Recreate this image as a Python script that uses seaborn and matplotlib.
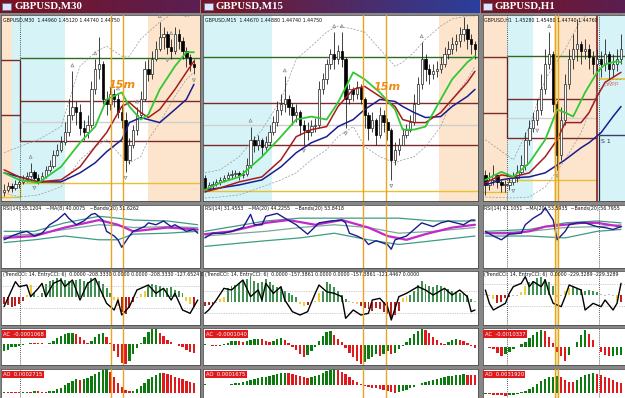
import numpy as np
import pandas as pd
import matplotlib
matplotlib.use("Agg")
import matplotlib.pyplot as plt
from matplotlib.colors import LinearSegmentedColormap
import seaborn as sns

sns.set_theme(style="white")
plt.rcParams['font.family'] = ['DejaVu Sans']

# ---------------- GBPUSD M30 (prix en pips au-dessus du bas du panneau) ----------------
m30_open0 = 8
m30_close = [10, 14, 12, 16, 18, 20, 24, 28, 22, 20, 24, 30, 34, 45, 50, 58, 68, 85, 92, 88,
             72, 68, 75, 110, 130, 135, 100, 95, 105, 100, 88, 80, 40, 55, 70, 85, 100, 130, 125, 140,
             150, 162, 165, 152, 148, 165, 158, 148, 142, 135, 132]
m30_high = [16, 18, 17, 20, 22, 25, 28, 37, 30, 26, 28, 34, 40, 50, 56, 64, 78, 100, 128, 98,
            95, 80, 85, 118, 140, 162, 138, 108, 112, 110, 105, 95, 88, 62, 75, 92, 108, 138, 140, 148,
            158, 177, 172, 168, 160, 172, 170, 162, 152, 145, 140]
m30_low = [4, 8, 8, 10, 12, 16, 18, 22, 18, 16, 18, 22, 28, 32, 44, 48, 55, 64, 80, 75,
           65, 60, 62, 72, 105, 120, 95, 85, 90, 92, 82, 72, 28, 36, 52, 65, 82, 98, 118, 120,
           138, 148, 150, 145, 140, 145, 150, 140, 132, 128, 125]
m30_ma_x = [0, 4, 9, 15, 20, 24, 27, 31, 33, 36, 38, 41, 45, 48, 50]
m30_ma_fast = [27, 20, 17, 33, 57, 73, 100, 107, 93, 80, 85, 110, 133, 147, 147]
m30_ma_mid = [30, 23, 18, 20, 33, 53, 67, 93, 97, 87, 82, 90, 110, 127, 138]
m30_ma_slow = [27, 23, 18, 18, 27, 37, 48, 60, 77, 82, 80, 77, 90, 100, 115]
m30_bb_up = [47, 53, 60, 73, 133, 147, 153, 143, 143, 160, 167, 177, 187, 182, 185]
m30_bb_lo = [7, 3, 5, 13, 40, 53, 60, 43, 37, 43, 60, 77, 103, 120, 127]
m30_frac_up = [7, 18, 24, 30, 35, 41, 44]
m30_frac_dn = [8, 32, 43, 50]
m30_lv_left = [139, 85, 3]
m30_lv_right = [141, 98, 78, 59, 17]
m30_rsi_x = [0, 2, 4, 6, 8, 10, 12, 14, 16, 17, 19, 21, 23, 24, 26, 27, 29, 30, 31, 33,
             34, 37, 38, 40, 42, 44, 45, 48, 50, 51]
m30_rsi = [50, 54, 57, 59, 54, 57, 66, 71, 78, 73, 66, 70, 77, 78, 71, 59, 54, 50, 42, 54,
           59, 64, 68, 66, 70, 64, 66, 59, 61, 57]
m30_rsi_ma_x = [0, 8, 16, 25, 30, 34, 43, 51]
m30_rsi_ma = [52, 54, 63, 71, 66, 59, 63, 61]
m30_rsi_bup = [59, 59, 68, 75, 73, 71, 70, 66]
m30_rsi_bmid = [54, 56, 61, 66, 65, 63, 64, 63]
m30_rsi_blo = [47, 50, 54, 50, 50, 56, 57, 59]
m30_cci = [-60, -70, -90, -80, -60, -30, 20, 110, 40, 10, 40, 120, 150, 160, 170, 170, 160, 150, 140, 160,
           165, 150, 140, 170, 160, 150, 120, 80, 40, -20, -80, -130, -150, -100, -40, -10, 30, 60, 100, 120,
           110, 100, 80, 80, 90, 70, 60, 40, -30, -60, -90]
m30_entry_x = [0, 2, 3, 4, 6, 7, 9, 10, 11, 13, 15, 16, 18, 20, 22, 24, 25, 27, 29, 30,
               31, 33, 35, 37, 38, 40, 42, 44, 45, 47, 49, 51]
m30_entry = [-84, 66, 141, 96, 111, 6, 81, 126, 6, 126, 156, 96, 156, -24, 126, 171, 96, -54, -114, -24,
             -159, -84, 66, 96, 111, 36, 81, -24, 36, -114, -144, -24]
m30_ac = [-20, -18, -10, -8, -5, -2, 2, 5, 4, 3, 3, 2, 4, 10, 18, 25, 30, 34, 36, 30,
          22, 14, 4, 10, 22, 32, 36, 22, 5, -22, -40, -58, -62, -52, -30, -12, 4, 22, 38, 46,
          48, 36, 24, 14, 6, 2, -4, -10, -18, -24, -28]
m30_ao = [2, 2, 1, 1, 1, 2, 3, 3, 4, 4, 3, 3, 4, 5, 10, 15, 22, 28, 34, 40,
          38, 42, 44, 50, 56, 62, 68, 70, 62, 48, 30, 18, 8, 4, 6, 12, 20, 30, 40, 48,
          54, 58, 58, 56, 52, 48, 44, 40, 36, 32, 28]

# ---------------- GBPUSD M15 ----------------
m15_open0 = 22
m15_close = [12, 15, 16, 18, 20, 22, 25, 26, 27, 25, 26, 35, 60, 55, 60, 53, 58, 68, 78, 90,
             95, 100, 92, 85, 88, 75, 70, 68, 74, 75, 110, 120, 135, 145, 140, 148, 140, 100, 110, 105,
             112, 100, 85, 72, 80, 65, 85, 78, 70, 40, 50, 55, 65, 70, 78, 95, 115, 140, 130, 125,
             128, 130, 135, 145, 150, 155, 158, 165, 170, 160, 155, 150]
m15_high = [25, 18, 19, 21, 23, 25, 28, 30, 30, 29, 30, 42, 73, 64, 65, 62, 64, 75, 84, 98,
            105, 123, 104, 96, 95, 90, 80, 78, 80, 82, 118, 126, 140, 150, 167, 154, 167, 142, 115, 112,
            118, 115, 102, 88, 88, 82, 92, 90, 82, 72, 58, 62, 72, 76, 85, 105, 122, 157, 145, 135,
            135, 138, 142, 152, 158, 162, 165, 172, 182, 175, 165, 158]
m15_low = [8, 10, 12, 14, 15, 18, 20, 22, 23, 20, 22, 24, 32, 48, 50, 45, 50, 55, 65, 74,
           85, 88, 85, 75, 78, 65, 55, 60, 64, 68, 72, 105, 115, 130, 130, 135, 132, 72, 95, 98,
           100, 95, 72, 60, 68, 55, 62, 68, 60, 20, 35, 45, 55, 62, 68, 75, 95, 110, 118, 115,
           120, 122, 126, 132, 140, 145, 148, 152, 158, 150, 145, 140]
m15_ma_x = [0, 4, 9, 15, 20, 24, 28, 32, 35, 39, 42, 46, 50, 52, 55, 58, 62, 65, 69, 71]
m15_ma_fast = [10, 17, 23, 43, 63, 80, 83, 80, 97, 127, 120, 107, 90, 70, 70, 73, 100, 120, 137, 143]
m15_ma_mid = [8, 12, 18, 23, 40, 63, 70, 73, 93, 110, 113, 103, 93, 80, 77, 77, 87, 100, 117, 128]
m15_ma_slow = [10, 12, 15, 20, 33, 47, 57, 63, 73, 80, 90, 100, 98, 93, 87, 82, 83, 93, 103, 110]
m15_bb_up = [27, 30, 43, 70, 100, 140, 153, 167, 173, 170, 167, 150, 133, 137, 147, 160, 173, 180, 183, 183]
m15_bb_lo = [2, 3, 5, 13, 20, 27, 40, 50, 63, 73, 53, 43, 37, 40, 43, 53, 73, 100, 120, 133]
m15_frac_up = [12, 21, 34, 36, 57, 68]
m15_frac_dn = [26, 37, 49]
m15_levels = [142, 96, 75, 55, 9]
m15_rsi_x = [0, 2, 5, 7, 10, 12, 13, 15, 16, 19, 21, 24, 27, 29, 30, 33, 36, 37, 38, 40,
             42, 43, 45, 48, 49, 50, 53, 55, 57, 60, 62, 64, 66, 68, 70, 71]
m15_rsi = [52, 57, 57, 59, 63, 77, 66, 66, 75, 78, 73, 66, 56, 64, 68, 70, 71, 68, 57, 54,
           50, 45, 49, 45, 40, 50, 54, 61, 68, 64, 68, 70, 68, 66, 71, 71]
m15_rsi_ma_x = [0, 7, 16, 22, 29, 36, 43, 48, 53, 58, 65, 71]
m15_rsi_ma = [56, 59, 68, 71, 66, 71, 63, 54, 50, 56, 63, 66]
m15_rsi_b_x = [0, 16, 25, 34, 43, 51, 60, 71]
m15_rsi_bup = [59, 70, 73, 73, 73, 73, 70, 70]
m15_rsi_bmid = [54, 59, 63, 66, 63, 57, 59, 63]
m15_rsi_blo = [43, 49, 52, 57, 50, 45, 49, 54]
m15_cci = [-40, -30, -20, -10, 20, 40, 120, 140, 150, 170, 190, 200, 225, 190, 170, 180, 200, 180, 150, 130,
           120, 100, 80, 60, 40, -20, -40, -30, -10, 10, 80, 100, 180, 160, 130, 100, 60, 20, 10, -10,
           -20, -40, -60, -70, -80, -60, -70, -90, -110, -150, -120, -80, 30, 50, 60, 100, 150, 190, 160, 140,
           130, 150, 140, 120, 110, 100, 90, 80, 70, 60, 20, 10]
m15_entry_x = [0, 1, 3, 5, 7, 10, 12, 14, 15, 16, 18, 20, 21, 23, 25, 27, 29, 30, 32, 34,
               36, 37, 39, 41, 43, 44, 46, 48, 49, 51, 53, 56, 58, 60, 63, 65, 67, 69, 70, 71]
m15_entry = [-105, -75, 15, 120, 105, 195, 45, 105, 15, 165, 75, 135, 15, -90, -120, -90, 75, 150, 90, 75,
             45, -150, -75, -120, -105, 15, 30, -45, -165, 45, 75, 135, 105, 60, 120, 60, 105, 45, -90, -75]
m15_ac = [3, 0, -3, -5, -4, 2, 6, 10, 12, 10, 9, 12, 14, 16, 18, 16, 12, 8, 12, 16,
          20, 14, 6, -8, -18, -28, -38, -32, -20, -6, 12, 28, 38, 42, 30, 18, 8, -10, -25, -40,
          -50, -62, -55, -45, -40, -30, -35, -28, -20, -30, -25, -15, -5, 8, 20, 32, 42, 50, 45, 35,
          25, 15, 6, 2, 8, 14, 18, 14, 10, 6, -4, -12]
m15_ao = [2, 1, 0, -1, -1, 0, 1, 3, 5, 7, 9, 11, 14, 17, 20, 23, 25, 28, 31, 34,
          36, 37, 36, 34, 31, 27, 24, 22, 23, 26, 30, 36, 42, 46, 48, 46, 40, 32, 24, 16,
          8, 2, -3, -6, -8, -10, -12, -14, -18, -22, -24, -22, -18, -14, -10, -5, 0, 5, 8, 12,
          15, 18, 21, 24, 26, 28, 30, 31, 32, 31, 30, 29]

# ---------------- GBPUSD H1 ----------------
h1_open0 = 25
h1_close = [15, 20, 25, 18, 15, 15, 18, 22, 28, 35, 60, 72, 80, 90, 110, 135, 145, 95, 45, 80,
            115, 140, 150, 155, 148, 150, 142, 135, 140, 135, 145, 130, 135, 140, 150]
h1_high = [30, 28, 35, 25, 20, 20, 22, 28, 35, 45, 68, 80, 88, 100, 125, 150, 167, 148, 98, 92,
           125, 150, 165, 180, 158, 160, 155, 148, 150, 148, 160, 148, 145, 150, 165]
h1_low = [5, 10, 15, 12, 8, 8, 10, 15, 18, 26, 30, 55, 68, 75, 85, 105, 130, 88, 30, 40,
          75, 110, 130, 138, 135, 140, 130, 125, 125, 122, 128, 120, 122, 128, 135]
h1_fast_x = [0, 4, 7, 11, 15, 18, 20, 22, 25, 28, 30, 33, 34]
h1_ma_fast = [20, 28, 23, 37, 60, 90, 87, 83, 107, 127, 135, 138, 137]
h1_mid_x = [0, 4, 7, 11, 15, 18, 20, 24, 26, 28, 30, 34]
h1_ma_mid = [17, 25, 23, 27, 43, 60, 77, 77, 87, 103, 117, 127]
h1_slow_x = [0, 4, 7, 11, 15, 20, 24, 26, 29, 32, 34]
h1_ma_slow = [15, 20, 22, 23, 27, 40, 52, 57, 67, 83, 93]
h1_bb_x = [0, 7, 11, 15, 20, 24, 28, 32, 34]
h1_bb_up = [60, 40, 73, 120, 150, 180, 190, 186, 183]
h1_bb_lo = [3, 2, 3, 13, 40, 67, 107, 120, 120]
h1_frac_up = [16, 23]
h1_frac_dn = [7, 13, 18]
h1_lv_left = [142, 87, 8]
h1_lv_mid = [143, 100, 82, 62, 20]
h1_wpp = 120
h1_s1 = 65
h1_rsi_x = [0, 2, 4, 6, 9, 10, 12, 14, 15, 17, 18, 20, 21, 23, 25, 28, 30, 32, 34]
h1_rsi = [59, 54, 50, 56, 57, 66, 73, 78, 84, 71, 50, 59, 66, 68, 68, 64, 63, 61, 64]
h1_rsi_ma_x = [0, 7, 11, 15, 20, 24, 28, 34]
h1_rsi_ma = [57, 57, 59, 64, 66, 68, 68, 64]
h1_rsi_b_x = [0, 11, 20, 28, 34]
h1_rsi_bup = [59, 61, 68, 70, 68]
h1_rsi_bmid = [57, 59, 63, 64, 66]
h1_rsi_blo = [54, 54, 52, 59, 61]
h1_cci = [10, -10, -40, -75, -60, -30, -15, -10, -5, 30, 80, 120, 130, 150, 160, 140, 120, 80, -20, -10,
          40, 60, 70, 60, 50, 40, 45, 35, 30, 10, -10, 5, -10, -50, -60]
h1_entry_x = [0, 1, 2, 5, 6, 7, 9, 10, 11, 12, 14, 15, 16, 17, 19, 20, 21, 23, 24, 25,
              27, 29, 30, 32, 33, 34]
h1_entry = [45, -75, -135, -75, 15, 75, 105, 165, 75, 120, 75, 135, 15, -75, -105, -15, 90, 60, 45, -135,
            -75, -105, -45, -135, -75, 105]
h1_ac = [-2, -4, -8, -18, -30, -22, -15, -8, 0, 8, 15, 25, 35, 45, 52, 48, 30, 10, -15, -30,
         -45, -25, 0, 15, 35, 50, 40, 20, 0, -15, -25, -30, -28, -26, -25]
h1_ao = [-2, -3, -4, -5, -6, -7, -6, -4, -1, 3, 8, 14, 20, 28, 36, 42, 48, 50, 52, 48,
         40, 35, 33, 40, 48, 55, 58, 60, 57, 54, 50, 45, 40, 35, 30]

# ---------------- mise en page ----------------
W, H = 625, 398
fig = plt.figure(figsize=(W / 100, H / 100), dpi=100, facecolor='#878787')

Y_TITLE = (0, 13)
Y_PRICE = (15, 201)
Y_RSI = (205, 268)
Y_CCI = (271, 325)
Y_AC = (328, 365)
Y_AO = (369, 398)

CYAN = '#d6f4f8'
PEACH = '#fce5cc'
ORANGE = '#e8a521'


def pane(x0, x1, yy):
    ax = fig.add_axes([x0 / W, 1 - yy[1] / H, (x1 - x0) / W, (yy[1] - yy[0]) / H])
    ax.set_facecolor('white')
    return ax


def tidy(ax, xlim, ylim):
    ax.set_xlim(*xlim)
    ax.set_ylim(*ylim)
    ax.set_xticks([])
    ax.set_yticks([])
    ax.set_xlabel('')
    ax.set_ylabel('')
    for s in ax.spines.values():
        s.set_color('#505050')
        s.set_linewidth(0.6)


def title_bar(x0, x1, text, c_end):
    ax = fig.add_axes([x0 / W, 1 - Y_TITLE[1] / H, (x1 - x0) / W, (Y_TITLE[1] - Y_TITLE[0]) / H])
    cmap = LinearSegmentedColormap.from_list('tb', ['#7a1322', c_end])
    ax.imshow(np.linspace(0, 1, 256)[None, :], aspect='auto', cmap=cmap, extent=[0, 1, 0, 1])
    ax.add_patch(plt.Rectangle((0.012, 0.2), 9 / (x1 - x0), 0.6, transform=ax.transAxes,
                               facecolor='#dfe6f5', edgecolor='#5070b0', linewidth=0.5))
    ax.text(14 / (x1 - x0), 0.48, text, transform=ax.transAxes, color='white', fontsize=7.8,
            fontweight='bold', family=['Liberation Serif', 'DejaVu Serif'], va='center', ha='left')
    ax.set_axis_off()


def candles(ax, open0, close, high, low):
    c = np.asarray(close, float)
    o = np.r_[open0, c[:-1]]
    x = np.arange(len(c))
    ax.vlines(x, low, high, color='#222222', linewidth=0.6, zorder=3)
    body = np.maximum(np.abs(c - o), 0.9)
    bot = np.minimum(o, c)
    bull = c >= o
    ax.bar(x[bull], body[bull], bottom=bot[bull], width=0.62, color='white',
           edgecolor='#222222', linewidth=0.5, zorder=4)
    ax.bar(x[~bull], body[~bull], bottom=bot[~bull], width=0.62, color='black',
           edgecolor='black', linewidth=0.5, zorder=4)


def fractals(ax, high, low, up, dn):
    hi = np.asarray(high, float)
    lo = np.asarray(low, float)
    ax.scatter(up, hi[up] + 6, marker='^', s=5, facecolor='none', edgecolor='#8a8a8a', linewidth=0.5, zorder=5)
    ax.scatter(dn, lo[dn] - 6, marker='v', s=5, facecolor='none', edgecolor='#8a8a8a', linewidth=0.5, zorder=5)


def line(ax, x, y, color, lw, ls='-', z=6):
    sns.lineplot(x=x, y=y, ax=ax, color=color, linewidth=lw, linestyle=ls, zorder=z, estimator=None)


def bollinger(ax, x, up, lo):
    line(ax, x, up, '#9a9a9a', 0.5, (0, (3, 2)), 2)
    line(ax, x, lo, '#9a9a9a', 0.5, (0, (3, 2)), 2)


def rsi_panel(ax, x, v, ma_x, ma, b_x, bup, bmid, blo):
    line(ax, b_x, bup, '#3c9c86', 0.9)
    line(ax, b_x, bmid, '#7aa89a', 0.9)
    line(ax, b_x, blo, '#3c9c86', 0.9)
    line(ax, ma_x, ma, '#c428c8', 1.6, z=7)
    line(ax, x, v, '#1c1c8e', 1.0, z=8)


def cci_panel(ax, hist, ex, ev):
    v = np.asarray(hist, float)
    kind = []
    for i, val in enumerate(v):
        prev = v[max(i - 2, 0):i]
        if abs(val) < 15:
            kind.append('flat')
        elif np.any(np.sign(prev) != np.sign(val)):
            kind.append('turn')
        elif val > 0:
            kind.append('pos')
        else:
            kind.append('neg')
    df = pd.DataFrame({'bar': np.arange(len(v)), 'cci': v, 'kind': kind})
    sns.barplot(data=df, x='bar', y='cci', hue='kind', native_scale=True, dodge=False, width=0.5,
                palette={'pos': '#3f9152', 'neg': '#b8211d', 'turn': '#f2cd3a', 'flat': '#bdbdbd'},
                saturation=1, linewidth=0, legend=False, ax=ax)
    for lv in (100, -100):
        ax.axhline(lv, color='#a0a0a0', linewidth=0.5, linestyle=(0, (1, 1.5)))
    line(ax, ex, ev, 'black', 1.0, z=8)


def osc_panel(ax, vals):
    v = np.asarray(vals, float)
    d = np.r_[1, np.diff(v)]
    df = pd.DataFrame({'bar': np.arange(len(v)), 'val': v, 'dir': np.where(d > 0, 'up', 'down')})
    sns.barplot(data=df, x='bar', y='val', hue='dir', native_scale=True, dodge=False, width=0.62,
                palette={'up': '#0d7a10', 'down': '#e01a1c'}, saturation=1, linewidth=0,
                legend=False, ax=ax)


def tag(ax, text):
    ax.text(0.012, 0.9, text, transform=ax.transAxes, fontsize=3.8, color='white', va='top',
            bbox=dict(facecolor='#e01a1c', edgecolor='none', pad=0.9))


def info(ax, text):
    ax.text(0.008, 0.985, text, transform=ax.transAxes, fontsize=3.4, color='#111111', va='top', zorder=10)


def vmarks(axes, dotted=(), orange=(), band=None):
    for ax in axes:
        if band is not None:
            ax.axvspan(band[0], band[1], color='#f7e7a6', zorder=0.5, linewidth=0)
        for xv in dotted:
            ax.axvline(xv, color='#222222', linewidth=0.6, linestyle=(0, (1, 1.5)), zorder=9)
        for xv in orange:
            ax.axvline(xv, color=ORANGE, linewidth=1.0, zorder=9)


CCI_TXT = '(TrendCCI: 14, EntryCCI: 6)  '

# =============== fenêtre M30 ===============
xl = (-0.8, 51.6)
title_bar(0, 200, 'GBPUSD,M30', '#5a1f52')
ax = pane(1, 200, Y_PRICE)
ax.axvspan(-1, 2.2, color=PEACH, zorder=0, linewidth=0)
ax.axvspan(2.2, 16, color=CYAN, zorder=0, linewidth=0)
ax.axvspan(37.9, 53, color=PEACH, zorder=0, linewidth=0)
ax.hlines(m30_lv_left, -1, 4.2, colors=['#7b2b2b', '#7b2b2b', '#e8c030'], linewidth=1.0, zorder=1)
ax.vlines(4.2, m30_lv_right[3], m30_lv_left[0], color='#7b2b2b', linewidth=1.0, zorder=1)
ax.vlines(4.2, m30_lv_left[2], m30_lv_right[4], color='#e8c030', linewidth=1.0, zorder=1)
ax.hlines(m30_lv_right, 4.2, 53, colors=['#2f6b1f', '#7b2b2b', '#cfcfcf', '#7b2b2b', '#e8c030'],
          linewidth=1.0, zorder=1)
bollinger(ax, m30_ma_x, m30_bb_up, m30_bb_lo)
candles(ax, m30_open0, m30_close, m30_high, m30_low)
fractals(ax, m30_high, m30_low, m30_frac_up, m30_frac_dn)
line(ax, m30_ma_x, m30_ma_slow, '#1c1c8e', 1.1)
line(ax, m30_ma_x, m30_ma_mid, '#a61c1c', 1.1)
line(ax, m30_ma_x, m30_ma_fast, '#33c833', 1.3)
ax.text(31.2, 114, '15m', color='#ee8a14', fontsize=8, fontweight='bold', style='italic',
        ha='center', va='center', zorder=10)
info(ax, 'GBPUSD,M30  1.44960 1.45120 1.44740 1.44750')
tidy(ax, xl, (-1, 184))
p1 = ax

ax = pane(1, 200, Y_RSI)
rsi_panel(ax, m30_rsi_x, m30_rsi, m30_rsi_ma_x, m30_rsi_ma, m30_rsi_ma_x, m30_rsi_bup, m30_rsi_bmid, m30_rsi_blo)
info(ax, 'RSI(14) 35.1204   ~MA(8) 40.0075   ~Bands(20) 51.6262')
tidy(ax, xl, (20, 87))
r1 = ax

ax = pane(1, 200, Y_CCI)
cci_panel(ax, m30_cci, m30_entry_x, m30_entry)
info(ax, CCI_TXT + '0.0000 -208.3330 0.0000 0.0000 -208.3330 -127.6524 0.0000')
tidy(ax, xl, (-249, 237))
c1 = ax

ax = pane(1, 200, Y_AC)
osc_panel(ax, m30_ac)
tag(ax, 'AC  -0.0001068')
tidy(ax, xl, (-64, 50))
a1 = ax

ax = pane(1, 200, Y_AO)
osc_panel(ax, m30_ao)
tag(ax, 'AO  0.0002715')
tidy(ax, xl, (-16, 71))
o1 = ax
vmarks([p1, r1, c1, a1, o1], dotted=[4.2], orange=[28.2, 31.3])

# =============== fenêtre M15 ===============
xl = (-0.5, 71.8)
title_bar(201, 480, 'GBPUSD,M15', '#2a3f9e')
ax = pane(203, 478, Y_PRICE)
ax.axvspan(-1, 17.6, color=CYAN, zorder=0, linewidth=0)
ax.axvspan(61.6, 73, color=PEACH, zorder=0, linewidth=0)
ax.hlines(m15_levels, -1, 73, colors=['#2f6b1f', '#7b2b2b', '#cfcfcf', '#7b2b2b', '#e8c030'],
          linewidth=1.0, zorder=1)
bollinger(ax, m15_ma_x, m15_bb_up, m15_bb_lo)
candles(ax, m15_open0, m15_close, m15_high, m15_low)
fractals(ax, m15_high, m15_low, m15_frac_up, m15_frac_dn)
line(ax, m15_ma_x, m15_ma_slow, '#1c1c8e', 1.1)
line(ax, m15_ma_x, m15_ma_mid, '#a61c1c', 1.1)
line(ax, m15_ma_x, m15_ma_fast, '#33c833', 1.3)
ax.text(48.0, 112, '15m', color='#ee8a14', fontsize=8, fontweight='bold', style='italic',
        ha='center', va='center', zorder=10)
info(ax, 'GBPUSD,M15  1.44670 1.44880 1.44740 1.44750')
tidy(ax, xl, (-1, 184))
p2 = ax

ax = pane(203, 478, Y_RSI)
rsi_panel(ax, m15_rsi_x, m15_rsi, m15_rsi_ma_x, m15_rsi_ma, m15_rsi_b_x, m15_rsi_bup, m15_rsi_bmid, m15_rsi_blo)
info(ax, 'RSI(14) 31.4553   ~MA(20) 44.2255   ~Bands(20) 53.8418')
tidy(ax, xl, (20, 87))
r2 = ax

ax = pane(203, 478, Y_CCI)
cci_panel(ax, m15_cci, m15_entry_x, m15_entry)
info(ax, CCI_TXT + '0.0000 -157.3861 0.0000 0.0000 -157.3861 -121.4467 0.0000')
tidy(ax, xl, (-210, 276))
c2 = ax

ax = pane(203, 478, Y_AC)
osc_panel(ax, m15_ac)
tag(ax, 'AC  -0.0001040')
tidy(ax, xl, (-64, 52))
a2 = ax

ax = pane(203, 478, Y_AO)
osc_panel(ax, m15_ao)
tag(ax, 'AO  0.0001675')
tidy(ax, xl, (-39, 48))
o2 = ax
vmarks([p2, r2, c2, a2, o2], orange=[41.6, 47.6])

# =============== fenêtre H1 ===============
xl = (-0.6, 35.0)
title_bar(481, 625, 'GBPUSD,H1', '#5a1f52')
ax = pane(483, 625, Y_PRICE)
ax.axvspan(-1, 5.5, color=PEACH, zorder=0, linewidth=0)
ax.axvspan(5.5, 12, color=CYAN, zorder=0, linewidth=0)
ax.axvspan(17.2, 28, color=PEACH, zorder=0, linewidth=0)
ax.axvspan(28, 36, color=CYAN, zorder=0, linewidth=0)
ax.hlines(h1_lv_left, -1, 5.5, colors=['#7b2b2b', '#7b2b2b', '#e8c030'], linewidth=1.0, zorder=1)
ax.vlines(5.5, h1_lv_mid[3], h1_lv_left[0], color='#7b2b2b', linewidth=1.0, zorder=1)
ax.hlines(h1_lv_mid[0], 5.5, 36, color='#2f6b1f', linewidth=1.0, zorder=1)
ax.hlines(h1_lv_mid[1:], 5.5, 28, colors=['#7b2b2b', '#cfcfcf', '#7b2b2b', '#e8c030'], linewidth=1.0, zorder=1)
ax.hlines(h1_wpp, 28.5, 36, color='#e8c030', linewidth=1.2, zorder=1)
ax.hlines(h1_s1, 28.5, 36, color='#3a3f70', linewidth=1.0, zorder=1)
ax.vlines(28.0, -1, 184, color='#8b1c1c', linewidth=1.2, zorder=2)
ax.vlines(28.6, -1, h1_s1, color='#2a2f50', linewidth=0.9, zorder=2)
ax.text(30.2, h1_wpp - 7, 'WPP', color='#e07a6a', fontsize=4.5, zorder=10)
ax.text(29.0, h1_s1 - 8, 'S 1', color='#2a2f50', fontsize=4.5, zorder=10)
bollinger(ax, h1_bb_x, h1_bb_up, h1_bb_lo)
candles(ax, h1_open0, h1_close, h1_high, h1_low)
fractals(ax, h1_high, h1_low, h1_frac_up, h1_frac_dn)
line(ax, h1_slow_x, h1_ma_slow, '#1c1c8e', 1.1)
line(ax, h1_mid_x, h1_ma_mid, '#a61c1c', 1.1)
line(ax, h1_fast_x, h1_ma_fast, '#33c833', 1.3)
info(ax, 'GBPUSD,H1  1.45280 1.45480 1.44740 1.44760')
tidy(ax, xl, (-1, 184))
p3 = ax

ax = pane(483, 625, Y_RSI)
rsi_panel(ax, h1_rsi_x, h1_rsi, h1_rsi_ma_x, h1_rsi_ma, h1_rsi_b_x, h1_rsi_bup, h1_rsi_bmid, h1_rsi_blo)
info(ax, 'RSI(14) 41.1051  ~MA(20) 53.5935  ~Bands(20) 56.7955')
tidy(ax, xl, (20, 87))
r3 = ax

ax = pane(483, 625, Y_CCI)
cci_panel(ax, h1_cci, h1_entry_x, h1_entry)
info(ax, CCI_TXT + '0.0000 -229.3289 -229.3289')
tidy(ax, xl, (-270, 216))
c3 = ax

ax = pane(483, 625, Y_AC)
osc_panel(ax, h1_ac)
tag(ax, 'AC  -0.0010337')
tidy(ax, xl, (-56, 57))
a3 = ax

ax = pane(483, 625, Y_AO)
osc_panel(ax, h1_ao)
tag(ax, 'AO  0.0031920')
tidy(ax, xl, (-14, 73))
o3 = ax
vmarks([p3, r3, c3, a3, o3], dotted=[5.5, 28.5], orange=[17.4, 18.1], band=(17.4, 18.1))

fig.savefig('out.png', dpi=100, facecolor=fig.get_facecolor())
